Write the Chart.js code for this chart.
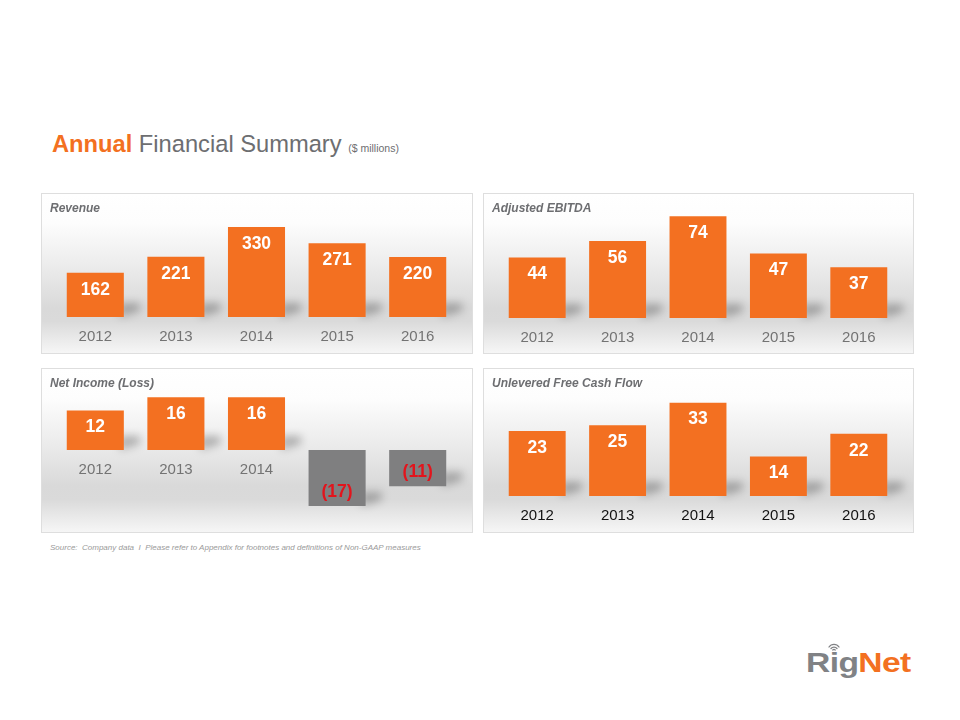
<!DOCTYPE html>
<html>
<head>
<meta charset="utf-8">
<script src="https://cdn.jsdelivr.net/npm/chart.js@4.4.1/dist/chart.umd.min.js"></script>
<style>
  body { margin: 0; width: 960px; height: 720px; background: #fff; font-family: "Liberation Sans", Arial, sans-serif; position: relative; overflow: hidden; }
  .title { position: absolute; left: 52px; top: 133px; font-size: 23.7px; line-height: 1; color: #6d6e71; white-space: nowrap; }
  .title b { color: #f37021; }
  .title small { font-size: 10.5px; color: #6d6e71; }
  .panel { position: absolute; box-sizing: border-box; border: 1px solid #dedede;
    background: linear-gradient(#ffffff 0%, #fdfdfd 18%, #ececec 45%, #d9d9d9 72%, #dadada 80%, #ebebeb 92%, #f6f6f6 100%); }
  .panel canvas { position: absolute; left: 0; top: 0; }
  .ptitle { position: absolute; left: 8px; top: 7px; font-size: 12px; font-weight: bold; font-style: italic; color: #6d6e71; z-index: 2; }
  .source { position: absolute; left: 50px; top: 543px; font-size: 8px; font-style: italic; color: #9a9a9a; white-space: nowrap; }
  .logo { position: absolute; left: 806px; top: 649px; font-size: 28px; line-height: 1; font-weight: bold; transform: scaleX(1.2); transform-origin: left top; color: #808285; letter-spacing: -0.5px; }
  .logo span { color: #f37021; }
  .wifi { position: absolute; left: 827px; top: 641px; }
</style>
</head>
<body>
<div class="title"><b>Annual</b> Financial Summary <small>($ millions)</small></div>

<div class="panel" style="left:41px;top:193px;width:432px;height:161px;">
  <div class="ptitle">Revenue</div>
  <canvas id="c1" width="430" height="159"></canvas>
</div>
<div class="panel" style="left:483px;top:193px;width:431px;height:161px;">
  <div class="ptitle">Adjusted EBITDA</div>
  <canvas id="c2" width="429" height="159"></canvas>
</div>
<div class="panel" style="left:41px;top:368px;width:432px;height:165px;">
  <div class="ptitle">Net Income (Loss)</div>
  <canvas id="c3" width="430" height="163"></canvas>
</div>
<div class="panel" style="left:483px;top:368px;width:431px;height:165px;">
  <div class="ptitle">Unlevered Free Cash Flow</div>
  <canvas id="c4" width="429" height="163"></canvas>
</div>

<div class="source">Source:&nbsp; Company data &nbsp;I&nbsp; Please refer to Appendix for footnotes and definitions of Non-GAAP measures</div>

<svg class="wifi" width="14" height="11" viewBox="0 0 14 11">
  <g fill="none" stroke="#808285" stroke-width="1.3" stroke-linecap="round">
    <path d="M2 6 A6 6 0 0 1 12 6"/>
    <path d="M4 7.5 A3.8 3.8 0 0 1 10 7.5"/>
    <path d="M5.8 9 A1.6 1.6 0 0 1 8.2 9"/>
  </g>
</svg>
<div class="logo">Rig<span>Net</span></div>

<script>
// data
const years = ['2012', '2013', '2014', '2015', '2016'];
const revenue = [162, 221, 330, 271, 220];
const ebitda = [44, 56, 74, 47, 37];
const netIncome = [12, 16, 16, -17, -11];
const freeCashFlow = [23, 25, 33, 14, 22];

const ORANGE = '#f37021';
const GREY_BAR = '#7f7f80';
const RED = '#e3141c';

// shadows behind bars, value labels and year labels under the zero line
const barDecor = {
  id: 'barDecor',
  beforeDatasetsDraw(chart) {
    const ctx = chart.ctx;
    chart.getDatasetMeta(0).data.forEach(bar => {
      const right = bar.x + bar.width / 2;
      const bottom = Math.max(bar.y, bar.base);
      ctx.save();
      ctx.filter = 'blur(4px)';
      ctx.fillStyle = 'rgba(0,0,0,0.26)';
      ctx.beginPath();
      ctx.moveTo(right - 4, bottom);
      ctx.lineTo(right + 16, bottom - 6);
      ctx.lineTo(right + 16, bottom - 14);
      ctx.lineTo(right - 4, bottom - 14);
      ctx.closePath();
      ctx.fill();
      ctx.restore();
    });
  },
  afterDatasetsDraw(chart, args, opts) {
    const ctx = chart.ctx;
    const values = chart.data.datasets[0].data;
    const zero = chart.scales.y.getPixelForValue(0);
    ctx.save();
    ctx.textAlign = 'center';
    ctx.textBaseline = 'middle';
    chart.getDatasetMeta(0).data.forEach((bar, i) => {
      const v = values[i];
      const top = Math.min(bar.y, bar.base);
      const bottom = Math.max(bar.y, bar.base);
      ctx.font = 'bold 17.5px "Liberation Sans", Arial, sans-serif';
      if (v >= 0) {
        ctx.fillStyle = '#ffffff';
        ctx.fillText(String(v), bar.x, top + 17);
        ctx.font = '15px "Liberation Sans", Arial, sans-serif';
        ctx.fillStyle = opts.yearColor;
        ctx.fillText(chart.data.labels[i], bar.x, zero + 19.5);
      } else {
        ctx.fillStyle = RED;
        ctx.fillText('(' + Math.abs(v) + ')', bar.x, bottom - 14);
      }
    });
    ctx.restore();
  }
};

function makeChart(id, values, min, max, padTop, padBottom, yearColor) {
  return new Chart(document.getElementById(id), {
    type: 'bar',
    data: {
      labels: years,
      datasets: [{
        data: values,
        backgroundColor: values.map(v => v < 0 ? GREY_BAR : ORANGE),
        borderWidth: 0,
        categoryPercentage: 1,
        barPercentage: 0.708
      }]
    },
    options: {
      responsive: false,
      animation: false,
      events: [],
      layout: { padding: { left: 13, right: 14, top: padTop, bottom: padBottom } },
      plugins: {
        legend: { display: false },
        tooltip: { enabled: false },
        barDecor: { yearColor: yearColor }
      },
      scales: {
        x: { display: false },
        y: { display: false, min: min, max: max }
      }
    },
    plugins: [barDecor]
  });
}

makeChart('c1', revenue, 0, 400, 14, 36, '#737373');
makeChart('c2', ebitda, 0, 80, 14, 35, '#737373');
makeChart('c3', netIncome, -20, 20, 15, 16, '#737373');
makeChart('c4', freeCashFlow, 0, 35, 28, 36, '#111111');
</script>
</body>
</html>
